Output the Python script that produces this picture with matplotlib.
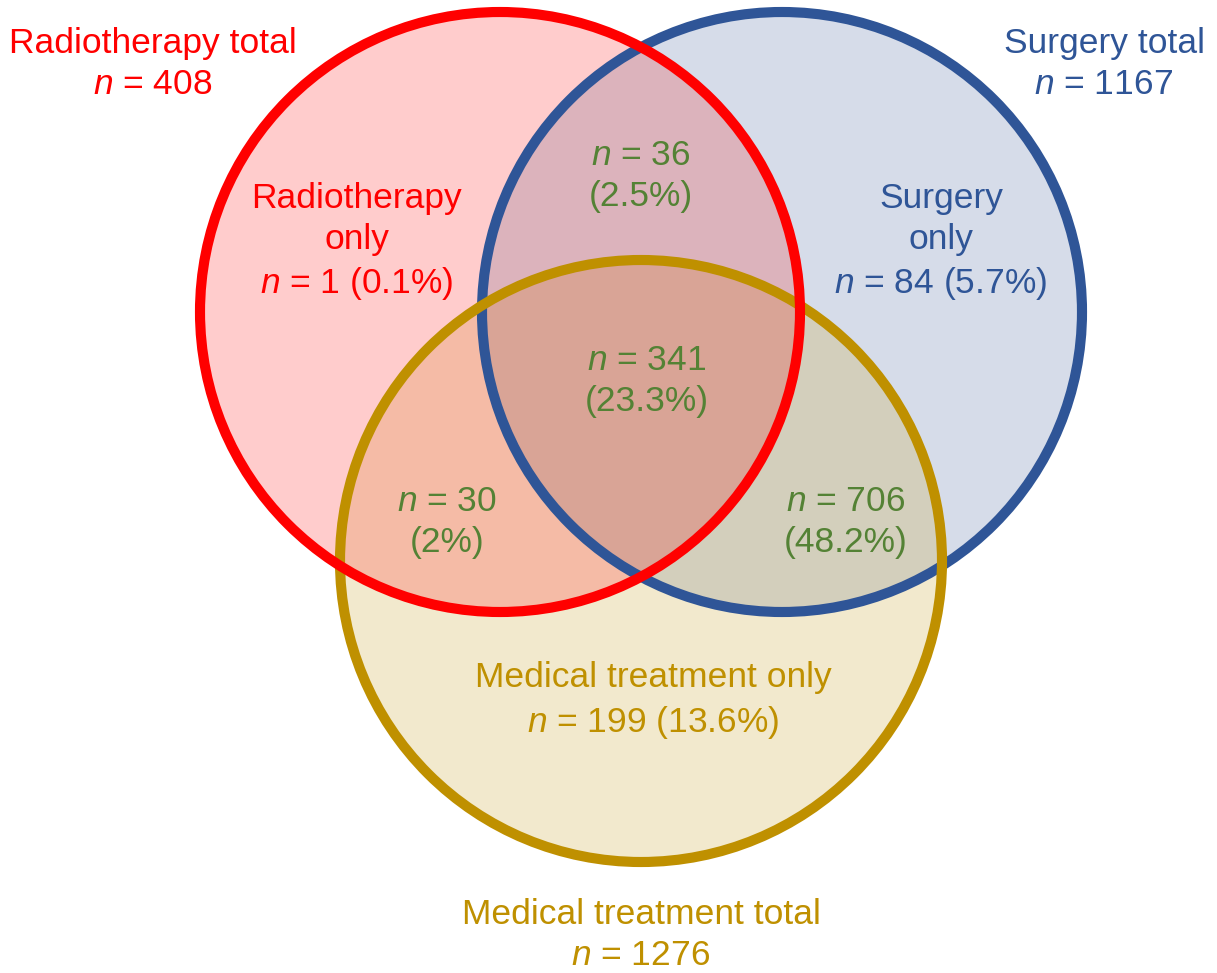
import numpy as np
import matplotlib.pyplot as plt
from matplotlib.colors import ListedColormap
from matplotlib.patches import Circle

# -----------------------------
# DATA
# -----------------------------
SETS = ["Radiotherapy", "Surgery", "Medical treatment"]
TOTALS = [408, 1167, 1276]
ONLY_N = [1, 84, 199]
ONLY_PCT = ["0.1", "5.7", "13.6"]
# pairwise overlaps: Radio&Surgery, Radio&Medical, Surgery&Medical
PAIR_N = [36, 30, 706]
PAIR_PCT = ["2.5", "2", "48.2"]
ALL_N = 341
ALL_PCT = "23.3"

# -----------------------------
# STYLE / LAYOUT (pixel coords)
# -----------------------------
W, H = 1217, 973
CENTERS = [(500, 312), (782, 312), (641, 561)]
RADII = [300, 300, 301]
EDGE = ["#FF0000", "#2F5597", "#BF9000"]
TXT = ["#FF0000", "#2F5597", "#BF9000"]
GREEN = "#548235"
# region colours indexed by bitmask r=1, s=2, m=4
REGION_COLORS = ["#FFFFFF", "#FFCCCC", "#D6DCE9", "#DCB3BC",
                 "#F2E9CD", "#F5BBA6", "#D3CFBC", "#D9A496"]
FS = 25.5

plt.rcParams["font.family"] = ["Liberation Sans", "DejaVu Sans"]
plt.rcParams["mathtext.fontset"] = "custom"
plt.rcParams["mathtext.rm"] = "Liberation Sans"
plt.rcParams["mathtext.it"] = "Liberation Sans:italic"

fig = plt.figure(figsize=(W / 100, H / 100), dpi=100)
ax = fig.add_axes([0, 0, 1, 1])
ax.set_xlim(0, W)
ax.set_ylim(H, 0)
ax.axis("off")

# filled regions
xx, yy = np.meshgrid(np.arange(W) + 0.5, np.arange(H) + 0.5)
mask = np.zeros((H, W), dtype=int)
for i, ((cx, cy), r) in enumerate(zip(CENTERS, RADII)):
    mask += ((xx - cx) ** 2 + (yy - cy) ** 2 <= r ** 2).astype(int) << i
ax.imshow(mask, cmap=ListedColormap(REGION_COLORS), vmin=-0.5, vmax=7.5,
          extent=[0, W, H, 0], interpolation="nearest", zorder=0)

# outlines (blue, gold, red on top)
for z, i in enumerate([1, 2, 0]):
    ax.add_patch(Circle(CENTERS[i], RADII[i], fill=False, lw=7.3,
                        ec=EDGE[i], zorder=2 + z))


def label(x, y, s, color, ls=1.33):
    ax.text(x, y, s, color=color, fontsize=FS, ha="center", va="center",
            linespacing=ls, zorder=10)


# totals
label(153, 64, f"{SETS[0]} total\n$n$ = {TOTALS[0]}", TXT[0], 1.28)
label(1104, 64, f"{SETS[1]} total\n$n$ = {TOTALS[1]}", TXT[1], 1.28)
label(641, 935, f"{SETS[2]} total\n$n$ = {TOTALS[2]}", TXT[2], 1.28)

# only
label(357, 242, f"{SETS[0]}\nonly\n$n$ = {ONLY_N[0]} ({ONLY_PCT[0]}%)", TXT[0])
label(941, 242, f"{SETS[1]}\nonly\n$n$ = {ONLY_N[1]} ({ONLY_PCT[1]}%)", TXT[1])
label(653, 701, f"{SETS[2]} only\n$n$ = {ONLY_N[2]} ({ONLY_PCT[2]}%)", TXT[2])

# overlaps
label(641, 176, f"$n$ = {PAIR_N[0]}\n({PAIR_PCT[0]}%)", GREEN)
label(447, 522, f"$n$ = {PAIR_N[1]}\n({PAIR_PCT[1]}%)", GREEN)
label(846, 522, f"$n$ = {PAIR_N[2]}\n({PAIR_PCT[2]}%)", GREEN)
label(647, 381, f"$n$ = {ALL_N}\n({ALL_PCT}%)", GREEN)

fig.savefig("out.png", dpi=100)
